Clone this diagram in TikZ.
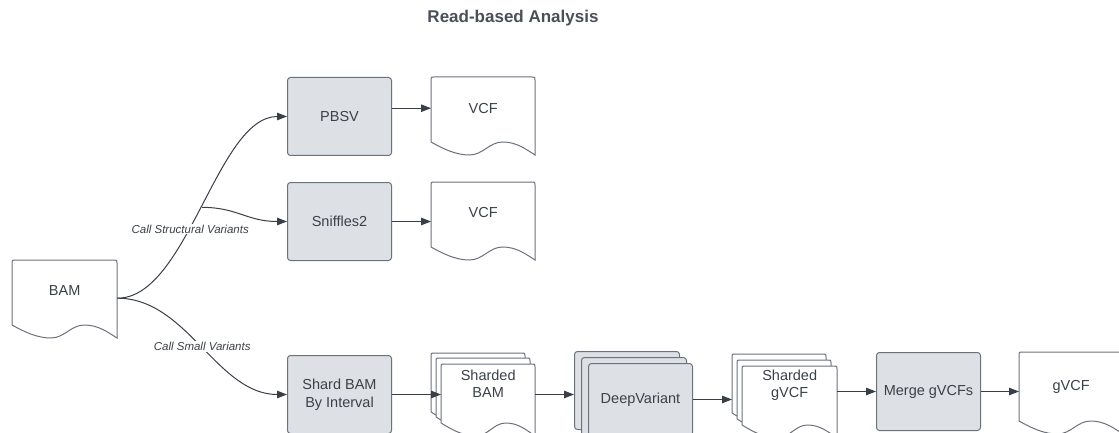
\documentclass[tikz,border=0pt]{standalone}
\usepackage{fontspec}
\setmainfont{Liberation Sans}
\usetikzlibrary{arrows.meta,calc}
\definecolor{boxfill}{HTML}{DDE1E6}
\definecolor{boxline}{HTML}{6C727C}
\definecolor{conn}{HTML}{3A3F47}
\definecolor{txt}{HTML}{3B4049}
\definecolor{ttl}{HTML}{4B4F58}
\newcommand\docshape[3]{%
  \begin{scope}[shift={(#1)}]
    \draw[docline] (0,#3-13) -- (0,3) .. controls (0,0) .. (3,0) -- (#2-3,0) .. controls (#2,0) .. (#2,3) -- (#2,#3)
      .. controls (0.91*#2,#3-6) and (0.82*#2,#3-13) .. (0.69*#2,#3-13)
      .. controls (0.56*#2,#3-13) and (0.5*#2,#3) .. (0.37*#2,#3)
      .. controls (0.24*#2,#3) and (0.12*#2,#3-6) .. (0,#3-13) -- cycle;
  \end{scope}}
\tikzset{
  proc/.style={draw=boxline, fill=boxfill, rounded corners=3pt, line width=1pt,
    minimum width=104pt, minimum height=78pt, anchor=north west, inner sep=0pt,
    text=txt, font=\fontsize{14.5}{17.5}\selectfont, align=center},
  doctext/.style={anchor=north west, inner sep=0pt, text=txt,
    font=\fontsize{14.5}{17}\selectfont, align=center},
  docline/.style={draw=boxline, fill=white, line width=1pt},
  flow/.style={draw=conn, line width=1pt, -{Triangle[length=10pt,width=7.5pt]}},
  lbl/.style={fill=white, font=\fontsize{11.5}{13}\selectfont\itshape, text=txt, inner sep=1pt},
}
\begin{document}
\begin{tikzpicture}[x=1pt,y=-1pt]
\useasboundingbox (0,0) rectangle (1119,433);
\fill[white] (0,0) rectangle (1119,433);
\clip (0,0) rectangle (1119,433);

\node[font=\fontsize{17}{20}\selectfont\bfseries, text=ttl] (title) at (513,18) {Read-based Analysis};

% BAM
\coordinate (bamc) at (12,260);
\docshape{bamc}{105}{78}
\node[doctext, minimum width=105pt, minimum height=60pt] (bam) at (bamc) {BAM};

% process boxes
\node[proc] (pbsv) at (287,77) {PBSV};
\node[proc] (snif) at (287,182) {Sniffles2};
\node[proc] (shard) at (287,355) {Shard BAM\\By Interval};
\node[proc] (merge) at (876,352) {Merge gVCFs};

% VCF docs
\coordinate (vcf1c) at (431,77);
\docshape{vcf1c}{104}{78}
\node[doctext, minimum width=104pt, minimum height=62pt] (vcf1) at (vcf1c) {VCF};
\coordinate (vcf2c) at (431,182);
\docshape{vcf2c}{104}{78}
\node[doctext, minimum width=104pt, minimum height=60pt] (vcf2) at (vcf2c) {VCF};

% Sharded BAM stack
\coordinate (sbamb) at (431,353);
\coordinate (sbamm) at (436,358);
\coordinate (sbamf) at (441,364);
\docshape{sbamb}{94}{72}
\docshape{sbamm}{94}{72}
\docshape{sbamf}{94}{72}
\node[doctext, minimum width=94pt, minimum height=39pt] (sbam) at (sbamf) {Sharded\\BAM};

% DeepVariant stack
\node[proc, minimum width=105pt] (dvback) at (574,351) {};
\node[proc, minimum width=105pt] (dvmid) at (581,357) {};
\node[proc, minimum width=104pt, minimum height=72pt] (dv) at (588,363) {DeepVariant};

% Sharded gVCF stack
\coordinate (sgvb) at (732,354);
\coordinate (sgvm) at (737,360);
\coordinate (sgvf) at (742,366);
\docshape{sgvb}{94}{72}
\docshape{sgvm}{94}{72}
\docshape{sgvf}{95}{72}
\node[doctext, minimum width=95pt, minimum height=38pt] (sgvcf) at (sgvf) {Sharded\\gVCF};

% gVCF
\coordinate (gvcfc) at (1019,352);
\docshape{gvcfc}{104}{82}
\node[doctext, minimum width=104pt, minimum height=70pt] (gvcf) at (gvcfc) {gVCF};

% connectors
\coordinate (bamout) at ([yshift=-8pt]bam.east);
\draw[flow] (bamout) .. controls +(70,0) and +(-70,0) .. (pbsv.west)
  node[lbl, pos=0.42] (lsv) {Call Structural Variants}
  coordinate[pos=0.5] (sbr);
\draw[flow] (sbr) .. controls +(35,0) and +(-40,0) .. (snif.west);
\draw[flow] (bamout) .. controls +(70,0) and +(-70,0) .. (shard.west)
  node[lbl, pos=0.5] (lsm) {Call Small Variants};

\draw[flow] (vcf1.west -| pbsv.east) -- (vcf1.west);
\draw[flow] (snif.east) -- (snif.east -| vcf2.west);
\draw[flow] (shard.east) -- (shard.east -| sbam.west);
\draw[flow] (shard.east -| sbam.east) -- (shard.east -| dvback.west);
\draw[flow] (dv.east) -- (dv.east -| sgvb);
\draw[flow] (merge.west -| sgvcf.east) -- (merge.west);
\draw[flow] (merge.east) -- (merge.east -| gvcf.west);
\end{tikzpicture}
\end{document}
